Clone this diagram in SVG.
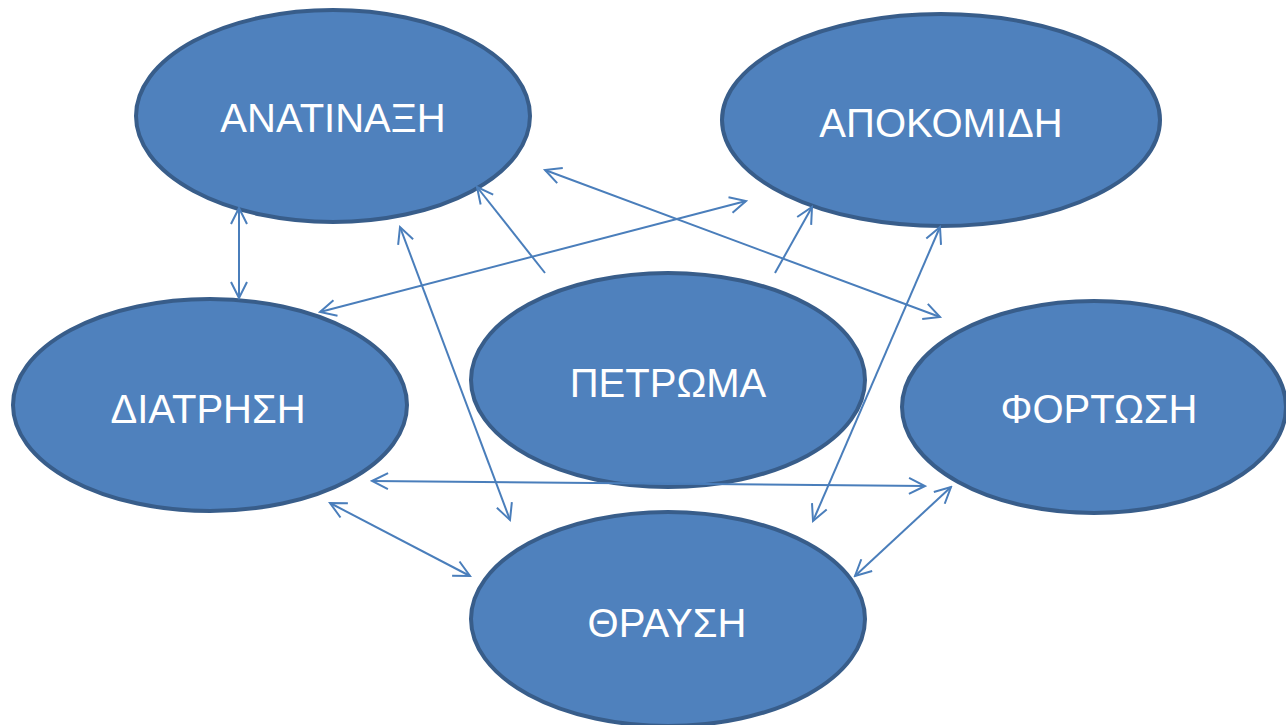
<svg xmlns="http://www.w3.org/2000/svg" width="1286" height="725" viewBox="0 0 1286 725">
<style>
.node ellipse{fill:#4F81BD;stroke:#385D8A;stroke-width:4}
.node text{fill:#FFFFFF;font-family:"Liberation Sans","Open Sans",sans-serif;font-size:40px;text-anchor:middle}
.conn line{stroke:#4A7EBB;stroke-width:2;fill:none}
</style>
<defs>
<marker id="ah" markerUnits="userSpaceOnUse" markerWidth="20" markerHeight="20" viewBox="0 0 20 20" refX="18" refY="10" orient="auto-start-reverse">
<path d="M2,2 L18,10 L2,18" fill="none" stroke="#4A7EBB" stroke-width="2"/>
</marker>
</defs>
<rect width="1286" height="725" fill="#FFFFFF"/>
<g id="n-anatinaxi" class="node"><ellipse cx="333" cy="116" rx="197" ry="106"/><text x="333" y="132">ΑΝΑΤΙΝΑΞΗ</text></g>
<g id="n-apokomidi" class="node"><ellipse cx="941" cy="120" rx="219" ry="106"/><text x="941" y="137">ΑΠΟΚΟΜΙΔΗ</text></g>
<g id="n-diatrisi" class="node"><ellipse cx="210" cy="405" rx="197" ry="106"/><text x="208" y="423">ΔΙΑΤΡΗΣΗ</text></g>
<g id="n-petroma" class="node"><ellipse cx="668" cy="380" rx="197" ry="107"/><text x="668" y="397">ΠΕΤΡΩΜΑ</text></g>
<g id="n-fortosi" class="node"><ellipse cx="1094" cy="407" rx="192" ry="106"/><text x="1099" y="423">ΦΟΡΤΩΣΗ</text></g>
<g id="n-thrafsi" class="node"><ellipse cx="668" cy="619" rx="197" ry="107"/><text x="667" y="637">ΘΡΑΥΣΗ</text></g>
<g id="connectors" class="conn">
<line x1="239" y1="298" x2="239" y2="208" marker-start="url(#ah)" marker-end="url(#ah)"/>
<line x1="545" y1="273" x2="477" y2="187" marker-end="url(#ah)"/>
<line x1="510" y1="520" x2="400" y2="227" marker-start="url(#ah)" marker-end="url(#ah)"/>
<line x1="320" y1="312" x2="746" y2="201" marker-start="url(#ah)" marker-end="url(#ah)"/>
<line x1="545" y1="170" x2="940" y2="317" marker-start="url(#ah)" marker-end="url(#ah)"/>
<line x1="775" y1="273" x2="812" y2="207" marker-end="url(#ah)"/>
<line x1="813" y1="521" x2="940" y2="227" marker-start="url(#ah)" marker-end="url(#ah)"/>
<line x1="372" y1="481" x2="925" y2="486" marker-start="url(#ah)" marker-end="url(#ah)"/>
<line x1="330" y1="503" x2="470" y2="576" marker-start="url(#ah)" marker-end="url(#ah)"/>
<line x1="951" y1="487" x2="855" y2="576" marker-start="url(#ah)" marker-end="url(#ah)"/>
</g>
</svg>
